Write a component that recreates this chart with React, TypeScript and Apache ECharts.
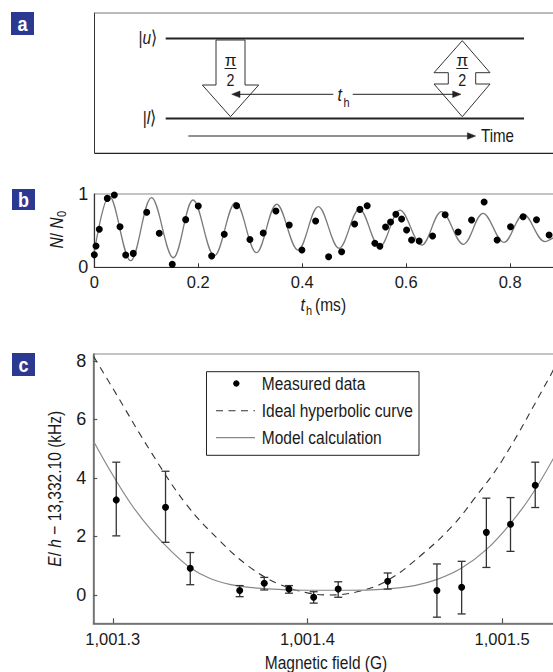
import React, { useEffect, useRef } from "react";
import * as echarts from "echarts";

const FONT = "'Liberation Sans', Arial, Helvetica, sans-serif";
const BLUE = "#2b3990";

// ---- Panel b data ----
const bTime = [0, 0.0033, 0.0096, 0.025, 0.0385, 0.0494, 0.0604, 0.075, 0.1008, 0.125, 0.15, 0.1758, 0.2, 0.2258, 0.25, 0.2738, 0.2994, 0.325, 0.3494, 0.375, 0.3994, 0.4258, 0.4508, 0.4758, 0.5008, 0.511, 0.525, 0.5398, 0.5494, 0.5604, 0.57, 0.5802, 0.5912, 0.6008, 0.6104, 0.625, 0.6508, 0.675, 0.7, 0.7258, 0.75, 0.775, 0.8008, 0.825, 0.8508, 0.875];
const bRatio = [0.17, 0.29, 0.52, 0.94, 0.986, 0.554, 0.168, 0.19, 0.75, 0.464, 0.04, 0.65, 0.836, 0.154, 0.45, 0.84, 0.38, 0.468, 0.768, 0.577, 0.236, 0.632, 0.145, 0.213, 0.59, 0.79, 0.84, 0.327, 0.286, 0.55, 0.618, 0.723, 0.659, 0.509, 0.372, 0.359, 0.427, 0.718, 0.481, 0.645, 0.891, 0.372, 0.554, 0.69, 0.649, 0.441];
// model curve: start, alternating peaks and troughs, end
const bModelT = [0, 0.029, 0.07, 0.11, 0.152, 0.19, 0.231, 0.272, 0.312, 0.351, 0.392, 0.431, 0.471, 0.51, 0.549, 0.588, 0.63, 0.668, 0.71, 0.748, 0.788, 0.826, 0.867, 0.885];
const bModelV = [0.21, 0.97, 0.09, 0.95, 0.13, 0.918, 0.158, 0.886, 0.2, 0.86, 0.235, 0.827, 0.26, 0.795, 0.28, 0.78, 0.304, 0.76, 0.314, 0.737, 0.34, 0.723, 0.35, 0.41];
const bTicks = [0, 0.2, 0.4, 0.6, 0.8];

// ---- Panel c data ----
const cField = [1001.3018, 1001.3271, 1001.3398, 1001.3652, 1001.3778, 1001.3905, 1001.4032, 1001.4158, 1001.4412, 1001.4665, 1001.4792, 1001.4919, 1001.5043, 1001.517];
const cEnergy = [3.25, 3.0, 0.91, 0.15, 0.4, 0.2, -0.08, 0.2, 0.47, 0.15, 0.26, 2.14, 2.42, 3.75];
const cErrLow = [2.02, 1.8, 0.35, -0.06, 0.17, 0.06, -0.28, -0.08, 0.2, -0.76, -0.65, 0.94, 1.49, 2.99];
const cErrHigh = [4.54, 4.23, 1.45, 0.32, 0.6, 0.32, 0.11, 0.45, 0.75, 1.06, 1.15, 3.31, 3.33, 4.54];
const idealField = [1001.2902, 1001.3, 1001.32, 1001.338, 1001.355, 1001.37, 1001.385, 1001.4, 1001.411, 1001.425, 1001.441, 1001.46, 1001.475, 1001.4852, 1001.5, 1001.5248, 1001.527];
const idealEnergy = [8.15, 7.07, 4.85, 3.08, 1.85, 0.97, 0.38, 0.07, 0.0, 0.1, 0.49, 1.45, 2.4, 3.25, 4.6, 7.5, 7.8];
const modelField = [1001.2902, 1001.3, 1001.31, 1001.32, 1001.33, 1001.34, 1001.35, 1001.36, 1001.37, 1001.385, 1001.4, 1001.42, 1001.44, 1001.455, 1001.467, 1001.479, 1001.492, 1001.504, 1001.515, 1001.527];
const modelEnergy = [5.25, 4.1, 3.05, 2.2, 1.5, 0.92, 0.56, 0.36, 0.26, 0.19, 0.16, 0.16, 0.2, 0.32, 0.54, 0.91, 1.56, 2.42, 3.4, 4.75];
const cXTicks = [1001.3, 1001.4, 1001.5];
const cYTicks = [0, 2, 4, 6, 8];

const legendItems = ["Measured data", "Ideal hyperbolic curve", "Model calculation"];

const SX = 0.84; // condensed look

function txt(x: number, y: number, text: string, opts: any = {}) {
  return {
    type: "text",
    x,
    y,
    z: 10,
    rotation: opts.rotation || 0,
    scaleX: opts.sx ?? SX,
    style: {
      text,
      fontSize: opts.fontSize || 18.5,
      fontFamily: FONT,
      fontStyle: opts.fontStyle || "normal",
      fontWeight: opts.fontWeight || "normal",
      fill: opts.fill || "#1a1a1a",
      align: opts.align || "left",
      verticalAlign: opts.verticalAlign || "middle",
      rich: opts.rich,
    },
  };
}
function ln(x1: number, y1: number, x2: number, y2: number, stroke = "#222", lineWidth = 1, dash?: number[]) {
  return { type: "line", z: 10, shape: { x1, y1, x2, y2 }, style: { stroke, lineWidth, lineDash: dash } };
}
function poly(points: number[][], fill = "#fff", stroke = "#333", lineWidth = 1) {
  return { type: "polygon", z: 10, shape: { points }, style: { fill, stroke, lineWidth } };
}
function panelLabel(x: number, y: number, w: number, h: number, letter: string) {
  return [
    { type: "rect", z: 10, shape: { x, y, width: w, height: h }, style: { fill: BLUE } },
    txt(x + w / 2, y + h / 2 + 0.5, letter, { fill: "#fff", fontWeight: "bold", align: "center", fontSize: 20, sx: 0.9 }),
  ];
}

const italic = { i: { fontStyle: "italic", fontFamily: FONT, fontSize: 18.5, fill: "#1a1a1a" } };

function buildGraphics() {
  const g: any[] = [];
  // panel labels
  g.push(...panelLabel(11, 12, 23, 23, "a"));
  g.push(...panelLabel(12, 189, 23, 21, "b"));
  g.push(...panelLabel(12, 353, 23, 23, "c"));

  // ---- panel a ----
  g.push(ln(94.5, 12.7, 94.5, 153.3, "#333", 1));
  g.push(ln(94.5, 13, 560, 13, "#777", 1));
  g.push(ln(94.5, 153.3, 560, 153.3, "#222", 1.2));
  g.push(ln(165.7, 38.5, 524, 38.5, "#222", 2));
  g.push(ln(165.7, 118.5, 524, 118.5, "#222", 2));
  g.push(txt(157, 38.5, "|{i|u}⟩", { align: "right", rich: italic }));
  g.push(txt(156, 118.5, "|{i|l}⟩", { align: "right", rich: italic }));
  // left pi/2 arrow
  g.push(poly([[216, 40], [245, 40], [245, 85], [258.7, 85], [230.5, 116.7], [202.3, 85], [216, 85]]));
  // right double arrow
  g.push(poly([[462.3, 40.7], [490, 72.7], [475.7, 72.7], [475.7, 84], [490, 84], [462.3, 116.7], [434, 84], [448.3, 84], [448.3, 72.7], [434, 72.7]]));
  for (const cx of [230.5, 462.3]) {
    g.push(txt(cx, 60.5, "π", { align: "center", fontSize: 17, sx: 1 }));
    g.push(ln(cx - 6, 68.5, cx + 6, 68.5, "#222", 1));
    g.push(txt(cx, 80.5, "2", { align: "center", fontSize: 17 }));
  }
  // t_h arrow
  g.push(ln(236, 94.3, 333.3, 94.3, "#222", 1));
  g.push(ln(352.7, 94.3, 456, 94.3, "#222", 1));
  g.push(poly([[231.7, 94.3], [240, 91], [240, 97.6]], "#222", "#222", 0.5));
  g.push(poly([[461, 94.3], [452.7, 91], [452.7, 97.6]], "#222", "#222", 0.5));
  g.push(txt(337.5, 95, "t", { fontStyle: "italic", fontSize: 19 }));
  g.push(txt(343.5, 102.5, "h", { fontSize: 13 }));
  // time arrow
  g.push(ln(188.3, 136, 470, 136, "#222", 1));
  g.push(poly([[475.7, 136], [467.4, 132.7], [467.4, 139.3]], "#222", "#222", 0.5));
  g.push(txt(481, 136.5, "Time", { fontSize: 18 }));

  // ---- panel b titles ----
  g.push({
    type: "group",
    x: 57,
    y: 248.5,
    rotation: Math.PI / 2,
    children: [
      txt(0, 0, "{i|N}/ {i|N}", { rich: italic }),
      txt(31.5, 5, "0", { fontSize: 13 }),
    ],
  });
  g.push(txt(300.5, 305, "t", { fontStyle: "italic", fontSize: 19 }));
  g.push(txt(306, 311, "h", { fontSize: 13 }));
  g.push(txt(315, 305, "(ms)"));

  // ---- panel c titles ----
  g.push(txt(55, 488.7, "{i|E}/ {i|h} − 13,332.10 (kHz)", { rotation: Math.PI / 2, align: "center", rich: italic }));
  g.push(txt(326, 663, "Magnetic field (G)", { align: "center" }));

  // legend
  g.push({ type: "rect", z: 10, shape: { x: 206.5, y: 371.7, width: 212.5, height: 83.6 }, style: { fill: "#fff", stroke: "#222", lineWidth: 1 } });
  g.push({ type: "circle", z: 11, shape: { cx: 236.3, cy: 383.5, r: 3.2 }, style: { fill: "#000" } });
  g.push(ln(216, 410.7, 255, 410.7, "#333", 1.1, [7, 5.5]));
  g.push(ln(216, 437.7, 255, 437.7, "#888", 1.2));
  g.push(txt(261.7, 384, legendItems[0]));
  g.push(txt(261.7, 411, legendItems[1]));
  g.push(txt(261.7, 438, legendItems[2]));
  return g;
}

const axisLabelStyle = { fontSize: 16.5, fontFamily: FONT, color: "#1a1a1a" };

function buildOption(): any {
  return {
    animation: false,
    backgroundColor: "#fff",
    grid: [
      { left: 94.3, top: 194, width: 460, height: 73.3, show: true, borderColor: "#888", borderWidth: 1, outerBoundsMode: "none", containLabel: false },
      { left: 93.3, top: 354, width: 461.4, height: 269.3, show: true, borderColor: "#888", borderWidth: 1, outerBoundsMode: "none", containLabel: false },
    ],
    xAxis: [
      {
        gridIndex: 0, type: "value", min: 0, max: 0.885, interval: 0.2,
        axisLine: { onZero: false, lineStyle: { color: "#333", width: 1.2 } },
        axisTick: { inside: true, length: 4, lineStyle: { color: "#333" }, customValues: bTicks },
        axisLabel: { ...axisLabelStyle, margin: 6, customValues: bTicks, formatter: (v: number) => (v === 0 ? "0" : v.toFixed(1)) },
        splitLine: { show: false },
      },
      {
        gridIndex: 1, type: "value", min: 1001.29, max: 1001.527,
        axisLine: { onZero: false, lineStyle: { color: "#666", width: 1.5 } },
        axisTick: { inside: true, length: 5, lineStyle: { color: "#555", width: 1.2 }, customValues: cXTicks },
        axisLabel: { ...axisLabelStyle, margin: 7, customValues: cXTicks, formatter: (v: number) => "1," + (v - 1000).toFixed(1).padStart(5, "0") },
        splitLine: { show: false },
      },
    ],
    yAxis: [
      {
        gridIndex: 0, type: "value", min: 0, max: 1, interval: 1,
        axisLine: { show: true, onZero: false, lineStyle: { color: "#333", width: 1.2 } },
        axisTick: { show: false },
        axisLabel: { ...axisLabelStyle, fontSize: 18, margin: 6 },
        splitLine: { show: false },
      },
      {
        gridIndex: 1, type: "value", min: -0.97, max: 8.24,
        axisLine: { show: true, onZero: false, lineStyle: { color: "#666", width: 1.5 } },
        axisTick: { show: true, inside: true, length: 4, lineStyle: { color: "#555", width: 1.2 }, customValues: cYTicks },
        axisLabel: { ...axisLabelStyle, fontSize: 18, margin: 7, customValues: cYTicks },
        splitLine: { show: false },
      },
    ],
    series: [
      {
        type: "line", xAxisIndex: 0, yAxisIndex: 0, smooth: 0.363, showSymbol: false, symbol: "none",
        data: bModelT.map((t, i) => [t, bModelV[i]]),
        lineStyle: { color: "#7a7a7a", width: 1.3 }, z: 2, clip: true,
      },
      {
        type: "scatter", xAxisIndex: 0, yAxisIndex: 0, symbolSize: 7,
        data: bTime.map((t, i) => [t, bRatio[i]]),
        itemStyle: { color: "#000", opacity: 1 }, z: 3,
      },
      {
        type: "line", xAxisIndex: 1, yAxisIndex: 1, smooth: 0.4, showSymbol: false, symbol: "none",
        data: idealField.map((x, i) => [x, idealEnergy[i]]),
        lineStyle: { color: "#333", width: 1.1, type: [7, 5.5] }, z: 2, clip: true,
      },
      {
        type: "line", xAxisIndex: 1, yAxisIndex: 1, smooth: 0.4, showSymbol: false, symbol: "none",
        data: modelField.map((x, i) => [x, modelEnergy[i]]),
        lineStyle: { color: "#888", width: 1.2 }, z: 2, clip: true,
      },
      {
        type: "custom", xAxisIndex: 1, yAxisIndex: 1, z: 3,
        data: cField.map((x, i) => [x, cErrLow[i], cErrHigh[i]]),
        renderItem: (params: any, api: any) => {
          const x = api.value(0);
          const lo = api.coord([x, api.value(1)]);
          const hi = api.coord([x, api.value(2)]);
          const hw = 4;
          const st = { stroke: "#333", lineWidth: 1.3 };
          return {
            type: "group",
            children: [
              { type: "line", shape: { x1: lo[0], y1: lo[1], x2: hi[0], y2: hi[1] }, style: st },
              { type: "line", shape: { x1: lo[0] - hw, y1: lo[1], x2: lo[0] + hw, y2: lo[1] }, style: st },
              { type: "line", shape: { x1: hi[0] - hw, y1: hi[1], x2: hi[0] + hw, y2: hi[1] }, style: st },
            ],
          };
        },
      },
      {
        type: "scatter", xAxisIndex: 1, yAxisIndex: 1, symbolSize: 7,
        data: cField.map((x, i) => [x, cEnergy[i]]),
        itemStyle: { color: "#000", opacity: 1 }, z: 4,
      },
    ],
    graphic: { elements: buildGraphics() },
  };
}

export default function App() {
  const ref = useRef<HTMLDivElement>(null);
  useEffect(() => {
    if (!ref.current) return;
    const chart = echarts.init(ref.current, null, { renderer: "svg" });
    chart.setOption(buildOption());
    return () => chart.dispose();
  }, []);
  return (
    <div
      ref={ref}
      style={{ position: "absolute", left: 0, top: 0, width: 553, height: 672, background: "#fff" }}
    />
  );
}
